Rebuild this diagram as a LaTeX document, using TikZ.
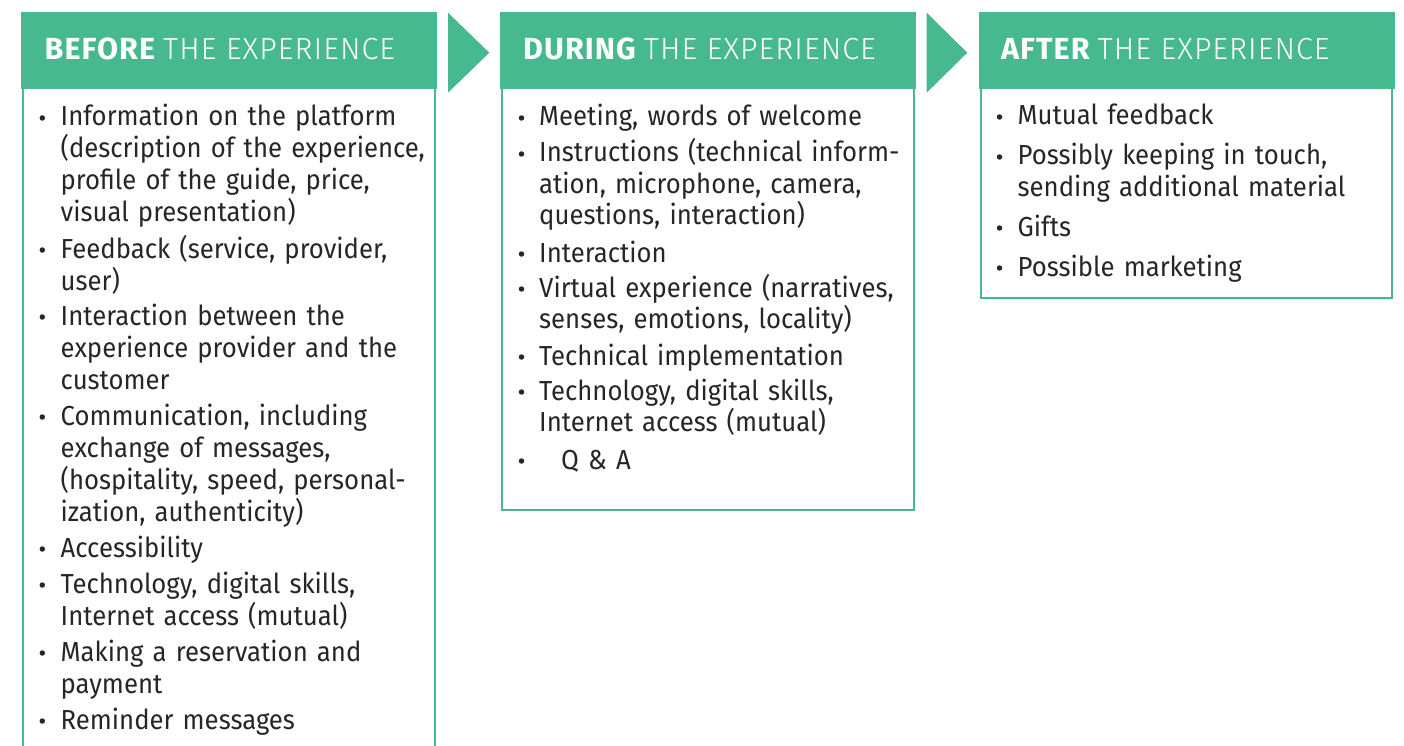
\documentclass[tikz,border=0pt]{standalone}
\usepackage{fontspec}
\setmainfont{Fira Sans}
\newfontfamily\bodyfont{Fira Sans}[FakeStretch=0.935]
\newfontfamily\hdrbold{Fira Sans Bold}[LetterSpace=3.5]
\newfontfamily\hdrlight{Fira Sans Light}[LetterSpace=3.5]
\definecolor{leaf}{HTML}{46B98F}
\definecolor{ink}{HTML}{262626}
\tikzset{
  hdrbox/.style={fill=leaf, draw=none, anchor=north west, inner sep=0pt,
                 minimum width=416pt, minimum height=76.5pt},
  hdrtext/.style={anchor=base west, inner sep=0pt, text=white,
                  font=\fontsize{30.5}{34}\selectfont},
  bodybox/.style={draw=leaf, line width=2pt},
  item/.style={anchor=base west, inner sep=0pt, text=ink, text width=400pt,
               align=left, font=\bodyfont\fontsize{27.5}{#1}\selectfont},
  item/.default=32,
  bul/.style={circle, fill=ink, inner sep=0pt, minimum size=5.5pt},
  chevron/.style={fill=leaf}
}
\begin{document}
\begin{tikzpicture}[x=1pt,y=-1pt]
\useasboundingbox (0,0) rectangle (1404,746);
\clip (0,0) rectangle (1404,746);

% body outlines (the first column runs past the lower edge)
\draw[bodybox] (22.75,88) rectangle (435,780);
\draw[bodybox] (501.75,88) rectangle (914.25,509.5);
\draw[bodybox] (980.5,88) rectangle (1392.25,297.5);

% column headers
\node[hdrbox] (h1) at (21,12) {};
\node[hdrbox] (h2) at (500,12) {};
\node[hdrbox] (h3) at (978.5,12) {};
\node[hdrtext] (t1) at (44.5,60) {{\hdrbold BEFORE} {\hdrlight THE EXPERIENCE}};
\node[hdrtext] (t2) at (523,60) {{\hdrbold DURING} {\hdrlight THE EXPERIENCE}};
\node[hdrtext] (t3) at (1001,60) {{\hdrbold AFTER} {\hdrlight THE EXPERIENCE}};

% chevrons between the stages
\fill[chevron] (448,12.7) -- (489.3,52.7) -- (448,92.7) -- cycle;
\fill[chevron] (926.7,12.7) -- (967.3,52.7) -- (926.7,92.7) -- cycle;

% before
\foreach \y [count=\i] in {126,258,325,425,557,593,661,729}
  \node[bul] (b1\i) at (42.3,\y-8) {};
\node[item] (a1) at (60.5,126) {Information on the platform\\(description of the experience,\\profile of the guide, price,\\visual presentation)};
\node[item] (a2) at (60.5,258) {Feedback (service, provider,\\user)};
\node[item] (a3) at (60.5,325) {Interaction between the\\experience provider and the\\customer};
\node[item] (a4) at (60.5,425) {Communication, including\\exchange of messages,\\(hospitality, speed, personal-\\ization, authenticity)};
\node[item] (a5) at (60.5,557) {Accessibility};
\node[item] (a6) at (60.5,593) {Technology, digital skills,\\Internet access (mutual)};
\node[item] (a7) at (60.5,661) {Making a reservation and\\payment};
\node[item] (a8) at (60.5,729) {Reminder messages};

% during
\foreach \y [count=\i] in {126,162,262,297,365,400,469}
  \node[bul] (b2\i) at (521.5,\y-8) {};
\node[item=31.4] (c1) at (539,126) {Meeting, words of welcome};
\node[item=31.4] (c2) at (539,162) {Instructions (technical inform-\\ation, microphone, camera,\\questions, interaction)};
\node[item=31.4] (c3) at (539,262) {Interaction};
\node[item=31.4] (c4) at (539,297) {Virtual experience (narratives,\\senses, emotions, locality)};
\node[item=31.4] (c5) at (539,365) {Technical implementation};
\node[item=31.4] (c6) at (539,400) {Technology, digital skills,\\Internet access (mutual)};
\node[item=31.4] (c7) at (561,469) {Q \& A};

% after
\foreach \y [count=\i] in {125,165,236,276}
  \node[bul] (b3\i) at (999.5,\y-8) {};
\node[item=31.2] (d1) at (1017.5,125) {Mutual feedback};
\node[item=31.2] (d2) at (1017.5,165) {Possibly keeping in touch,\\sending additional material};
\node[item=31.2] (d3) at (1017.5,236) {Gifts};
\node[item=31.2] (d4) at (1017.5,276) {Possible marketing};
\end{tikzpicture}
\end{document}
